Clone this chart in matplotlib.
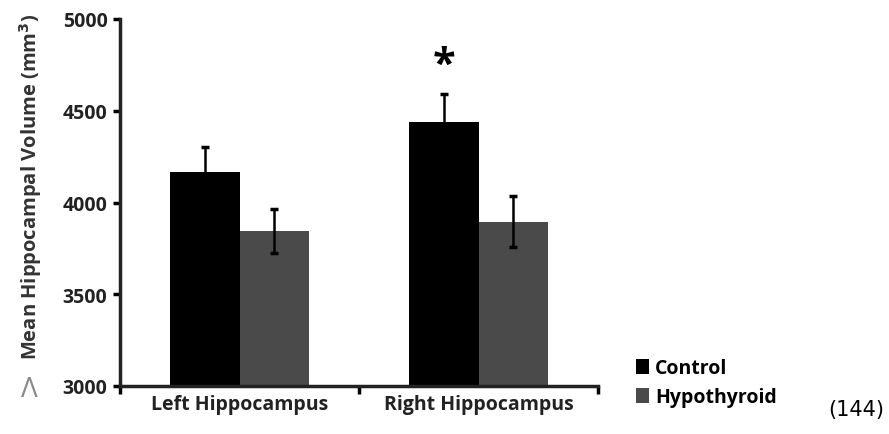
import matplotlib.pyplot as plt
import numpy as np

# data
groups = ['Left Hippocampus', 'Right Hippocampus']
control = [4165, 4437]
control_err = [135, 157]
hypo = [3846, 3895]
hypo_err = [120, 140]
series_names = ['Control', 'Hypothyroid']
y_ticks = [3000, 3500, 4000, 4500, 5000]

plt.rcParams['font.family'] = ['Open Sans', 'DejaVu Sans']

fig = plt.figure(figsize=(8.89, 4.35), dpi=100)
ax = fig.add_axes([120 / 889, 48 / 435, 478 / 889, 367 / 435])

x = np.arange(len(groups))
w = 0.29
err_kw = dict(elinewidth=1.8, capsize=3, capthick=2.5, ecolor='black')
ax.bar(x - w / 2, control, w, color='black', label=series_names[0],
       yerr=control_err, error_kw=err_kw)
ax.bar(x + w / 2, hypo, w, color='#4a4a4a', label=series_names[1],
       yerr=hypo_err, error_kw=err_kw)

# significance star over right control bar
ax.text(x[1] - w / 2, control[1] + control_err[1] + 40, '*', ha='center',
        va='bottom', fontsize=30, fontweight='bold')

ax.set_ylim(3000, 5000)
ax.set_xlim(-0.5, 1.5)
ax.set_yticks(y_ticks)
ax.set_yticklabels([str(t) for t in y_ticks], fontsize=14, fontweight='bold',
                   color='#222222')
ax.set_xticks(x)
ax.set_xticklabels(groups, fontsize=14, fontweight='bold', color='#222222')
ax.tick_params(axis='x', length=0, pad=6)
ax.set_xticks([-0.5, 0.5, 1.5], minor=True)
ax.tick_params(axis='x', which='minor', length=6, width=2.5, direction='out')
ax.tick_params(axis='y', length=5, width=2.5, direction='out', pad=4)

for s in ['top', 'right']:
    ax.spines[s].set_visible(False)
for s in ['left', 'bottom']:
    ax.spines[s].set_linewidth(2.5)
    ax.spines[s].set_color('#222222')

ax.set_ylabel('Mean Hippocampal Volume (mm$^\\mathbf{3}$)', fontsize=14.5,
              fontweight='bold', color='#333333')
ax.yaxis.set_label_coords(-0.16, 0.545)

fig.text(29 / 889, 1 - 390 / 435, 'Λ', color='#8a8a8a', fontsize=20,
         ha='center', va='center')

fig.legend(loc='upper left', bbox_to_anchor=(618 / 889, 1 - 342 / 435),
           frameon=False, handlelength=0.7, handleheight=0.8,
           handletextpad=0.3, labelspacing=0.45,
           prop={'size': 14, 'weight': 'bold'})

fig.text(884 / 889, 1 - 410 / 435, '(144)', ha='right', va='center',
         fontsize=15, family='DejaVu Sans')

fig.savefig('out.png', dpi=100)
